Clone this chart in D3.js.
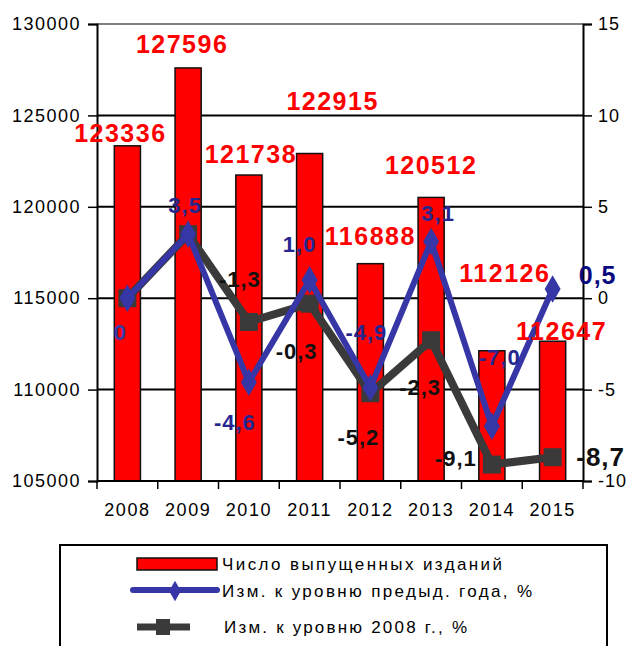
<!DOCTYPE html>
<html><head><meta charset="utf-8">
<script src="https://cdn.jsdelivr.net/npm/d3@7"></script>
<style>
html,body{margin:0;padding:0;background:#fff;}
svg{display:block;font-family:"Liberation Sans",Arial,sans-serif;}
</style></head>
<body>
<svg id="c" width="629" height="646"></svg>
<script>
// ---- data ----
const years = ["2008","2009","2010","2011","2012","2013","2014","2015"];
const published = [123336,127596,121738,122915,116888,120512,112126,112647];
const changePrev = [0,3.5,-4.6,1.0,-4.9,3.1,-7.0,0.5];
const change2008 = [0,3.5,-1.3,-0.3,-5.2,-2.3,-9.1,-8.7];
const leftTicks = [105000,110000,115000,120000,125000,130000];
const rightTicks = [-10,-5,0,5,10,15];
const legendLabels = ["Число выпущенных изданий","Изм. к уровню предыд. года, %","Изм. к уровню 2008 г., %"];

// label nudges (layout only)
const barLabelNudge = [[-7,-4],[-6,-15],[2,-12],[23,-44],[0,-19],[0,-23],[13,-69],[9,-1]];
const prevLabelNudge = [[-7,42],[-3,-21],[-14,48],[-10,-28],[-4,-48],[7,-21],[8,-61],[45,-5]];
const base08LabelNudge = [null,null,[-9,-35],[-13,55],[-12,52],[-11,55],[-36,1],[48,9]];

const fmtPct = v => (v===0? "0" : d3.format(".1f")(v).replace(".",",").replace("−","-"));

const svg = d3.select("#c");
const L=97, R=583, T=24, B=481;
const x = d3.scaleBand().domain(years).range([L,R]).paddingInner(0.57).paddingOuter(0.285);
const yL = d3.scaleLinear().domain([105000,130000]).range([B,T]);
const yR = d3.scaleLinear().domain([-10,15]).range([B,T]);
const cx = i => x(years[i]) + x.bandwidth()/2;

// gridlines
svg.append("g").selectAll("line").data(leftTicks.filter(t=>t>105000)).join("line")
  .attr("x1",L).attr("x2",R).attr("y1",d=>yL(d)).attr("y2",d=>yL(d))
  .attr("stroke",d=>d===130000?"#808080":"#000").attr("stroke-width",2);

// bars
svg.append("g").selectAll("rect").data(published).join("rect")
  .attr("x",(d,i)=>x(years[i])).attr("width",x.bandwidth())
  .attr("y",d=>yL(d)).attr("height",d=>B-yL(d))
  .attr("fill","#ff0000").attr("stroke","#111").attr("stroke-width",1.5);

// left axis
const axL = d3.axisLeft(yL).tickValues(leftTicks).tickSize(9).tickPadding(7).tickFormat(d3.format("d"));
const gL = svg.append("g").attr("transform",`translate(${L},0)`).call(axL);
gL.select(".domain").attr("stroke","#000").attr("stroke-width",2);
gL.selectAll(".tick line").attr("stroke","#000").attr("stroke-width",1.5);
gL.selectAll("text").attr("font-size",18).attr("letter-spacing",1.5).attr("fill","#000")
  .attr("font-family","Liberation Sans, Arial, sans-serif");

// right axis
const axR = d3.axisRight(yR).tickValues(rightTicks).tickSize(9).tickPadding(6);
const gR = svg.append("g").attr("transform",`translate(${R},0)`).call(axR);
gR.select(".domain").attr("stroke","#000").attr("stroke-width",2);
gR.selectAll(".tick line").attr("stroke","#000").attr("stroke-width",1.5);
gR.selectAll("text").attr("font-size",18).attr("letter-spacing",1).attr("fill","#000")
  .attr("font-family","Liberation Sans, Arial, sans-serif")
  .text(d=>String(d).replace("−","-"));

// bottom axis
const axB = d3.axisBottom(x).tickSize(0).tickPadding(22);
const gB = svg.append("g").attr("transform",`translate(0,${B})`).call(axB);
gB.select(".domain").remove();
gB.selectAll("text").attr("font-size",18).attr("letter-spacing",1.5).attr("fill","#000")
  .attr("font-family","Liberation Sans, Arial, sans-serif");
svg.append("line").attr("x1",L).attr("x2",R).attr("y1",B).attr("y2",B).attr("stroke","#000").attr("stroke-width",2);
const step = x.step();
svg.append("g").selectAll("line").data(d3.range(years.length+1)).join("line")
  .attr("x1",i=>L+i*step).attr("x2",i=>L+i*step).attr("y1",B).attr("y2",B+8)
  .attr("stroke","#000").attr("stroke-width",1.5);

// gray line (vs 2008)
const grayC = "#3a3a3a", blueC = "#3636a6";
const line08 = d3.line().x((d,i)=>cx(i)).y(d=>yR(d));
svg.append("path").datum(change2008).attr("d",line08)
  .attr("fill","none").attr("stroke",grayC).attr("stroke-width",8).attr("stroke-linejoin","round");
svg.append("g").selectAll("rect").data(change2008).join("rect")
  .attr("x",(d,i)=>cx(i)-9).attr("y",d=>yR(d)-9).attr("width",18).attr("height",18).attr("fill",grayC);

// blue line (vs previous year)
svg.append("path").datum(changePrev).attr("d",line08)
  .attr("fill","none").attr("stroke",blueC).attr("stroke-width",6).attr("stroke-linejoin","miter");
svg.append("g").selectAll("path").data(changePrev).join("path")
  .attr("d",d3.symbol().type(d3.symbolDiamond).size(220))
  .attr("transform",(d,i)=>`translate(${cx(i)},${yR(d)})`).attr("fill",blueC);

// bar labels
svg.append("g").selectAll("text").data(published).join("text")
  .attr("x",(d,i)=>cx(i)+barLabelNudge[i][0]).attr("y",(d,i)=>yL(d)+barLabelNudge[i][1])
  .attr("text-anchor","middle").attr("font-size",25).attr("font-weight","bold").attr("letter-spacing",1.5)
  .attr("fill","#ff0000").text(d=>d);

// blue labels
svg.append("g").selectAll("text").data(changePrev).join("text")
  .attr("x",(d,i)=>cx(i)+prevLabelNudge[i][0]).attr("y",(d,i)=>yR(d)+prevLabelNudge[i][1])
  .attr("text-anchor","middle").attr("font-weight","bold")
  .attr("font-size",(d,i)=>i===7?25:22).attr("letter-spacing",1)
  .attr("fill",(d,i)=>i===7?"#0a0a80":(i===0?"#3a3aa8":"#26268f")).text(d=>fmtPct(d));

// black labels
svg.append("g").selectAll("text").data(change2008.map((v,i)=>({v,i})).filter(d=>base08LabelNudge[d.i])).join("text")
  .attr("x",d=>cx(d.i)+base08LabelNudge[d.i][0]).attr("y",d=>yR(d.v)+base08LabelNudge[d.i][1])
  .attr("text-anchor","middle").attr("font-weight","bold")
  .attr("font-size",d=>d.i===7?26:22).attr("letter-spacing",1)
  .attr("fill","#111").text(d=>fmtPct(d.v));

// legend
const lg = svg.append("g");
lg.append("rect").attr("x",60).attr("y",545).attr("width",547).attr("height",120)
  .attr("fill","#fff").attr("stroke","#000").attr("stroke-width",2);
lg.append("rect").attr("x",137).attr("y",558).attr("width",80).attr("height",12)
  .attr("fill","#ff0000").attr("stroke","#111").attr("stroke-width",1.5);
lg.append("line").attr("x1",133).attr("x2",217).attr("y1",590).attr("y2",590)
  .attr("stroke",blueC).attr("stroke-width",6).attr("stroke-linecap","round");
lg.append("path").attr("d",d3.symbol().type(d3.symbolDiamond).size(120)).attr("transform","translate(175,591)").attr("fill",blueC);
lg.append("line").attr("x1",137).attr("x2",190).attr("y1",627).attr("y2",627)
  .attr("stroke",grayC).attr("stroke-width",7);
lg.append("rect").attr("x",156).attr("y",619).attr("width",14).attr("height",16).attr("fill",grayC);
const legX = [222,222,224], legY=[570,597,633], legW=[280,310,243];
lg.selectAll("text.l").data(legendLabels).join("text").attr("class","l")
  .attr("x",(d,i)=>legX[i]).attr("y",(d,i)=>legY[i]).attr("font-size",17)
  .attr("textLength",(d,i)=>legW[i]).attr("lengthAdjust","spacing")
  .attr("fill","#000").text(d=>d);
</script>
</body></html>
